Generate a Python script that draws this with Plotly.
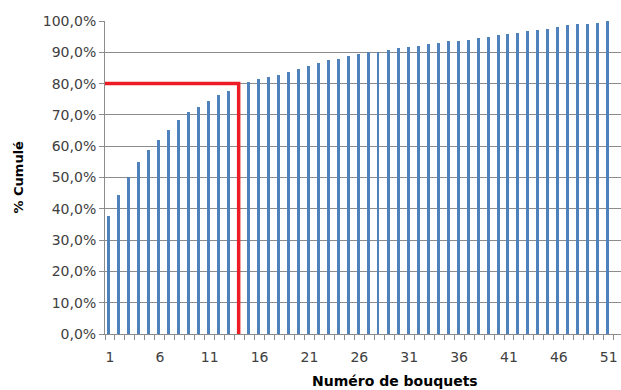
import plotly.graph_objects as go

# Data
bouquets = list(range(1, 52))
cumul_pct = [
    37.8, 44.3, 50.1, 55.1, 58.7, 61.9, 65.3, 68.5, 70.8, 72.6,
    74.5, 76.4, 77.7, 79.3, 80.4, 81.4, 82.0, 82.9, 83.8, 84.8,
    85.6, 86.6, 87.5, 88.0, 88.8, 89.4, 90.0, 90.1, 90.8, 91.3,
    91.7, 92.1, 92.7, 93.1, 93.5, 93.5, 94.0, 94.5, 95.0, 95.4,
    95.8, 96.3, 96.7, 97.2, 97.6, 98.2, 98.6, 99.0, 99.0, 99.5,
    100.0,
]
x_tick_vals = [1, 6, 11, 16, 21, 26, 31, 36, 41, 46, 51]
y_tick_vals = [0, 10, 20, 30, 40, 50, 60, 70, 80, 90, 100]
y_tick_text = ["0,0%", "10,0%", "20,0%", "30,0%", "40,0%", "50,0%",
               "60,0%", "70,0%", "80,0%", "90,0%", "100,0%"]
threshold_pct = 80
threshold_bouquet = 14

FONT = "DejaVu Sans"
GRID = "#8c8c8c"
TXT = "#404040"

W, H = 621, 390
ML, MR, MT, MB = 105, 0, 21, 56
BAND = 9.975  # px per category in the reference
x_max = 0.5 + (W - ML - MR) / BAND

SHIFT = -0.1  # bars sit slightly left of the category centre
widths = [0.3] * len(bouquets)
widths[27] = 0.12
offsets = [SHIFT - w / 2 for w in widths]

fig = go.Figure()
fig.add_trace(go.Bar(
    x=bouquets, y=cumul_pct, width=widths, offset=offsets,
    marker=dict(color="#4f81bd", line=dict(width=0)),
    showlegend=False, hoverinfo="x+y",
))
# Red 80% marker lines
fig.add_trace(go.Scatter(
    x=[0.5, threshold_bouquet + SHIFT, threshold_bouquet + SHIFT],
    y=[threshold_pct, threshold_pct, -1.3],
    mode="lines", line=dict(color="#ed1c24", width=3.5),
    showlegend=False, hoverinfo="skip", cliponaxis=False,
))

fig.update_layout(
    width=W, height=H,
    margin=dict(l=ML, r=MR, t=MT, b=MB, autoexpand=False),
    paper_bgcolor="white", plot_bgcolor="white",
    font=dict(family=FONT, size=13, color=TXT),
    bargap=0,
)
fig.update_xaxes(
    range=[0.5, x_max], automargin=False,
    tickmode="array", tickvals=x_tick_vals, ticktext=[str(v) for v in x_tick_vals],
    ticks="", showgrid=False, zeroline=False,
    showline=True, linecolor=GRID, linewidth=1,
    tickfont=dict(size=14, color=TXT),
    ticklabelstandoff=10, ticklabeloverflow="allow",
    minor=dict(tickmode="array", tickvals=[i + 0.5 for i in range(0, 52)],
               ticks="outside", ticklen=5, tickcolor=GRID, tickwidth=1, showgrid=False),
)
fig.update_yaxes(
    range=[0, 100], automargin=False,
    tickmode="array", tickvals=y_tick_vals, ticktext=y_tick_text,
    ticks="outside", ticklen=5, tickcolor=GRID,
    showgrid=True, gridcolor=GRID, gridwidth=1,
    zeroline=False, showline=True, linecolor=GRID, linewidth=1,
    tickfont=dict(size=14, color=TXT),
)
pw = W - ML - MR
ph = H - MT - MB
fig.add_annotation(
    text="<b>% Cumulé</b>", textangle=-90,
    xref="paper", yref="paper", x=-(ML - 18) / pw, y=0.5,
    xanchor="center", yanchor="middle", showarrow=False,
    font=dict(family=FONT, size=13, color="#000000"),
)
fig.add_annotation(
    text="<b>Numéro de bouquets</b>",
    xref="paper", yref="paper", x=(395 - ML) / pw, y=-(381 - (H - MB)) / ph,
    xanchor="center", yanchor="middle", showarrow=False,
    font=dict(family=FONT, size=14, color="#000000"),
)

fig.write_html(
    "out.html",
    config={"displayModeBar": False},
    post_script="document.body.style.margin='0';document.body.style.overflow='hidden';",
)
